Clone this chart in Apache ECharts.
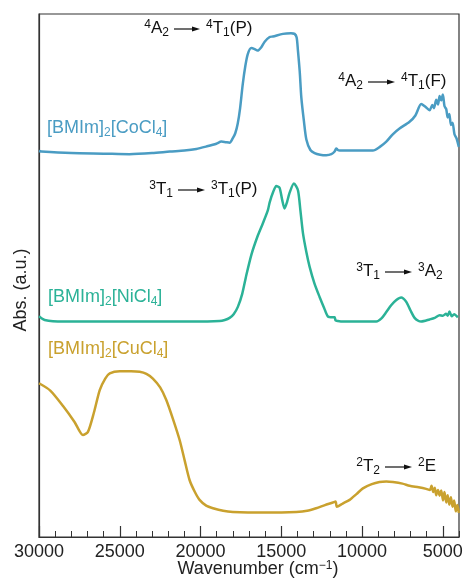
<!DOCTYPE html>
<html>
<head>
<meta charset="utf-8">
<script src="https://cdn.jsdelivr.net/npm/echarts@6/dist/echarts.min.js"></script>
<style>
  html, body { margin: 0; padding: 0; background: #fff; }
  #chart { width: 466px; height: 585px; }
</style>
</head>
<body>
<div id="chart"></div>
<script>
// wavenumber (cm-1) and offset absorbance (a.u.)
const coWn = [30000, 29850, 28000, 26000, 24400, 23000, 21900, 21000, 20260, 19600, 19020, 18710, 18450, 18200, 18010, 17850, 17700, 17550, 17390, 17230, 17080, 16860, 16650, 16470, 16250, 16030, 15720, 15520, 14900, 14400, 14180, 14050, 13970, 13860, 13760, 13600, 13450, 13200, 12940, 12600, 12220, 11900, 11700, 11600, 11500, 11390, 10500, 9330, 8900, 8500, 8100, 7680, 7060, 6700, 6340, 6100, 5820, 5650, 5550, 5410, 5300, 5200, 5100, 5000, 4900, 4790, 4700, 4600, 4500, 4400, 4280, 4150, 4010]
const coAbs = [73.8, 73.7, 73.4, 73.3, 73.2, 73.4, 73.7, 73.9, 74.2, 74.7, 75.2, 75.6, 75.5, 75.4, 76.2, 77.2, 79.0, 82.0, 86.5, 90.0, 92.3, 93.5, 93.3, 93.0, 93.6, 94.7, 95.6, 95.7, 96.2, 96.3, 96.2, 95.5, 93.0, 89.0, 84.0, 79.5, 76.0, 74.0, 73.4, 73.1, 73.0, 73.2, 73.7, 74.3, 74.0, 73.9, 73.9, 73.9, 74.6, 75.6, 77.0, 78.1, 79.4, 80.6, 82.8, 82.3, 81.6, 82.6, 82.0, 83.6, 82.7, 84.3, 83.5, 84.6, 82.4, 81.8, 80.2, 80.9, 78.8, 79.2, 77.0, 76.2, 74.6]

const niWn = [30000, 29650, 28500, 26000, 23000, 20500, 18820, 18500, 18200, 17950, 17690, 17420, 17170, 16850, 16470, 16140, 15830, 15720, 15500, 15310, 15110, 14950, 14800, 14650, 14490, 14220, 13970, 13820, 13660, 13450, 13250, 12950, 12630, 12350, 12120, 11810, 11700, 11640, 11500, 11190, 10000, 9120, 8800, 8500, 8200, 7880, 7580, 7270, 7000, 6750, 6500, 6340, 5820, 5500, 5200, 5000, 4800, 4700, 4590, 4450, 4300, 4070]
const niAbs = [42.2, 41.5, 41.2, 41.2, 41.2, 41.2, 41.3, 41.5, 41.9, 42.6, 44.0, 46.5, 50.0, 54.0, 57.5, 60.0, 62.5, 64.0, 66.0, 67.1, 66.8, 64.5, 62.8, 64.0, 65.8, 67.6, 66.3, 62.5, 58.1, 54.5, 51.7, 48.5, 45.9, 43.8, 42.2, 42.0, 42.0, 41.4, 41.3, 41.2, 41.2, 41.2, 41.8, 43.0, 44.3, 45.3, 45.8, 45.0, 43.3, 41.9, 41.3, 41.2, 41.6, 41.9, 42.4, 42.3, 42.7, 42.3, 43.1, 42.2, 42.6, 42.0]

const cuWn = [30000, 29300, 28500, 27800, 27280, 26970, 26600, 26240, 25900, 25620, 25000, 24300, 23770, 23350, 22950, 22500, 22120, 21700, 21290, 20980, 20680, 20350, 20060, 19650, 19230, 18600, 18000, 16000, 14070, 13400, 12840, 12300, 11810, 11640, 11560, 11200, 10770, 10350, 9950, 9400, 8920, 8500, 8090, 7500, 7060, 6500, 6030, 5800, 5700, 5600, 5500, 5410, 5300, 5200, 5100, 4990, 4900, 4790, 4700, 4600, 4500, 4400, 4300, 4200, 4100, 4010]
const cuAbs = [29.4, 28.0, 25.0, 22.0, 19.5, 20.1, 23.8, 28.1, 30.3, 31.3, 31.7, 31.7, 31.6, 31.2, 30.3, 28.6, 26.2, 22.5, 18.5, 14.6, 10.9, 8.6, 7.1, 6.0, 5.5, 5.0, 4.8, 4.7, 4.8, 5.0, 5.5, 6.1, 6.6, 6.8, 5.8, 6.4, 7.1, 8.2, 9.3, 10.1, 10.5, 10.6, 10.5, 10.2, 9.8, 9.5, 9.2, 9.0, 9.8, 8.6, 9.4, 8.0, 9.0, 7.9, 8.9, 7.0, 8.6, 6.6, 8.0, 6.2, 7.6, 5.8, 7.0, 4.9, 6.1, 4.6]

const majorTicks = [30000, 25000, 20000, 15000, 10000, 5000]
const minorTicks = [29000, 28000, 27000, 26000, 24000, 23000, 22000, 21000, 19000, 18000, 17000, 16000, 14000, 13000, 12000, 11000, 9000, 8000, 7000, 6000, 4000]

const FONT = 'Liberation Sans, Arial, sans-serif'
const colors = { co: '#4a9cc3', ni: '#2bb297', cu: '#c9a12e' }

function zip(xs, ys) {
  return xs.map((x, i) => [x, ys[i]])
}

const chart = echarts.init(document.getElementById('chart'))

const richBase = {
  m: { fontSize: 18, fontFamily: FONT, lineHeight: 24, verticalAlign: 'middle' },
  s: { fontSize: 12, fontFamily: FONT, lineHeight: 24, verticalAlign: 'bottom', padding: [0, 0, 1, 0] },
  u: { fontSize: 12, fontFamily: FONT, lineHeight: 24, verticalAlign: 'top', padding: [3, 0, 0, 0] }
}

function richFor(color, size) {
  const r = JSON.parse(JSON.stringify(richBase))
  Object.keys(r).forEach(k => { r[k].color = color })
  if (size) r.m.fontSize = size
  return r
}

// series name labels
function nameLabel(x, y, metal, color) {
  return {
    type: 'text',
    left: x,
    top: y - 12,
    style: {
      text: '{m|[BMIm]}{s|2}{m|[' + metal + 'Cl}{s|4}{m|]}',
      rich: richFor(color),
      fill: color
    }
  }
}

// transition annotation: left text, arrow, right text
function transition(x0, x1, y, leftTxt, rightTxt) {
  const r = richFor('#111', 17)
  return [
    {
      type: 'text',
      x: x0 - 5,
      y: y,
      style: { text: leftTxt, rich: r, align: 'right', verticalAlign: 'middle', fill: '#111' }
    },
    {
      type: 'line',
      shape: { x1: x0, y1: y + 1, x2: x1 - 6, y2: y + 1 },
      style: { stroke: '#111', lineWidth: 1.2 }
    },
    {
      type: 'polygon',
      shape: { points: [[x1 - 8, y - 2.5 + 1], [x1, y + 1], [x1 - 8, y + 3.5]] },
      style: { fill: '#111' }
    },
    {
      type: 'text',
      x: x1 + 6,
      y: y,
      style: { text: rightTxt, rich: r, align: 'left', verticalAlign: 'middle', fill: '#111' }
    }
  ]
}

const option = {
  animation: false,
  grid: {
    left: 39,
    right: 7,
    top: 14,
    bottom: 48,
    outerBoundsMode: 'none',
    show: true,
    borderColor: '#333',
    borderWidth: 1.2
  },
  xAxis: [
    {
      type: 'value',
      inverse: true,
      position: 'bottom',
      min: 4000,
      max: 30000,
      axisLine: { show: true, lineStyle: { color: '#333', width: 1.2 } },
      axisTick: { show: true, inside: true, length: 6, customValues: minorTicks, lineStyle: { color: '#333', width: 1 } },
      axisLabel: { show: false },
      splitLine: { show: false }
    },
    {
      type: 'value',
      inverse: true,
      position: 'bottom',
      min: 4000,
      max: 30000,
      axisLine: { show: false },
      axisTick: { show: true, inside: true, length: 11, customValues: majorTicks, lineStyle: { color: '#333', width: 1.2 } },
      axisLabel: {
        customValues: majorTicks,
        formatter: v => String(v),
        fontSize: 18,
        fontFamily: FONT,
        color: '#222',
        margin: 6
      },
      splitLine: { show: false }
    }
  ],
  yAxis: {
    type: 'value',
    min: 0,
    max: 100,
    axisLine: { show: true, lineStyle: { color: '#333', width: 1.2 } },
    axisTick: { show: false },
    axisLabel: { show: false },
    splitLine: { show: false }
  },
  series: [
    { name: 'Co', data: zip(coWn, coAbs), color: colors.co },
    { name: 'Ni', data: zip(niWn, niAbs), color: colors.ni },
    { name: 'Cu', data: zip(cuWn, cuAbs), color: colors.cu }
  ].map(s => ({
    name: s.name,
    type: 'line',
    xAxisIndex: 0,
    data: s.data,
    smooth: 0.25,
    showSymbol: false,
    lineStyle: { color: s.color, width: 2.5 }
  })),
  graphic: [
    nameLabel(47, 131, 'Co', colors.co),
    nameLabel(48, 300, 'Ni', colors.ni),
    nameLabel(48, 352, 'Cu', colors.cu),
    ...transition(174, 200, 28, '{u|4}{m|A}{s|2}', '{u|4}{m|T}{s|1}{m|(P)}'),
    ...transition(368, 395, 81, '{u|4}{m|A}{s|2}', '{u|4}{m|T}{s|1}{m|(F)}'),
    ...transition(178, 205, 189, '{u|3}{m|T}{s|1}', '{u|3}{m|T}{s|1}{m|(P)}'),
    ...transition(385, 412, 271, '{u|3}{m|T}{s|1}', '{u|3}{m|A}{s|2}'),
    ...transition(385, 412, 466, '{u|2}{m|T}{s|2}', '{u|2}{m|E}'),
    {
      type: 'text',
      x: 258,
      y: 569,
      style: {
        text: '{m|Wavenumber (cm}{u|−1}{m|)}',
        rich: richFor('#222', 18),
        align: 'center',
        verticalAlign: 'middle',
        fill: '#222'
      }
    },
    {
      type: 'text',
      x: 21,
      y: 290,
      rotation: Math.PI / 2,
      style: {
        text: 'Abs. (a.u.)',
        font: '18px ' + FONT,
        align: 'center',
        verticalAlign: 'middle',
        fill: '#222'
      }
    }
  ]
}

chart.setOption(option)
window.addEventListener('resize', () => chart.resize())
</script>
</body>
</html>
